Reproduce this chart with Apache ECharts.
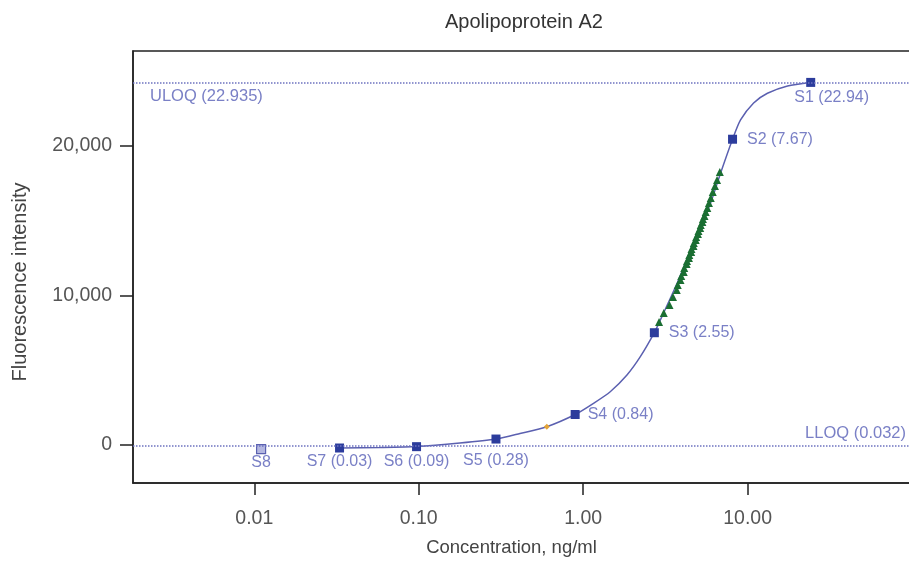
<!DOCTYPE html>
<html>
<head>
<meta charset="utf-8">
<title>Apolipoprotein A2</title>
<script src="https://cdn.jsdelivr.net/npm/echarts@6/dist/echarts.min.js"></script>
<style>
  html, body { margin: 0; padding: 0; background: #fff; }
  #main { width: 909px; height: 561px; }
</style>
</head>
<body>
<div id="main"></div>
<script>
// standards
var stdNames = ['S1 (22.94)', 'S2 (7.67)', 'S3 (2.55)', 'S4 (0.84)', 'S5 (0.28)', 'S6 (0.09)', 'S7 (0.03)', 'S8'];
var stdConc = [24.2, 8.1, 2.71, 0.894, 0.295, 0.097, 0.033, 0.011];
var stdSignal = [24250, 20450, 7510, 2040, 400, -110, -200, -270];

// fitted curve, points
var curveConc = [0.033, 0.0578, 0.0972, 0.178, 0.295, 0.413, 0.601, 0.894, 1.156, 1.461, 1.847, 2.227, 2.71,
  2.948, 3.727, 4.705, 5.949, 6.846, 8.1, 9.06, 10.88, 13.2, 17.5, 24.2];
var curveSignal = [-200, -167, -100, 134, 401, 770, 1224, 2040, 2789, 3565, 4682, 5906, 7512,
  8361, 10816, 13492, 16167, 18174, 20448, 21739, 22876, 23525, 24013, 24250];

// samples (green triangles)
var sampleConc = [2.894, 3.09, 3.35, 3.52, 3.71, 3.76, 3.91, 3.95, 4.09, 4.12, 4.26, 4.28,
  4.40, 4.42, 4.54, 4.56, 4.69, 4.71, 4.84, 4.87, 4.99, 5.03, 5.15, 5.19, 5.31, 5.35,
  5.47, 5.56, 5.69, 5.82, 5.97, 6.14, 6.33, 6.52, 6.78];
var sampleSignal = [8227, 8830, 9365, 9900, 10368, 10702, 11037, 11304, 11572, 11840, 12107, 12308,
  12508, 12709, 12910, 13110, 13311, 13512, 13712, 13913, 14114, 14314, 14515, 14716, 14916, 15117,
  15318, 15585, 15853, 16187, 16522, 16923, 17325, 17726, 18261];

// single orange point
var otherConc = [0.601];
var otherSignal = [1224];

var xTicks = [0.01, 0.1, 1, 10];
var yTicks = [0, 10000, 20000];
var uloq = 24250, lloq = -50;
var uloqText = 'ULOQ (22.935)', lloqText = 'LLOQ (0.032)';

(function() {
  var myChart = echarts.init(document.getElementById('main'));
  var font = 'Liberation Sans, Arial, sans-serif';
  var blueText = '#7a80c6';

  // label placement per standard
  var labelPos = [
    { position: 'bottom', distance: 3, offset: [21, 0] },
    { position: 'right', distance: 10 },
    { position: 'right', distance: 10 },
    { position: 'right', distance: 8 },
    { position: 'bottom', distance: 9 },
    { position: 'bottom', distance: 2 },
    { position: 'bottom', distance: 1 },
    { position: 'bottom', distance: 0 }
  ];

  var stdData = stdNames.map(function(n, i) {
    var item = {
      name: n,
      value: [stdConc[i], stdSignal[i]],
      label: labelPos[i]
    };
    if (n === 'S8') {
      item.itemStyle = { color: '#b4b7e0', borderColor: '#5a60b0', borderWidth: 1.2 };
    }
    return item;
  });

  var zip = function(a, b) {
    return a.map(function(v, i) { return [v, b[i]]; });
  };

  var option = {
    animation: false,
    textStyle: { fontFamily: font },
    title: {
      text: 'Apolipoprotein A2',
      left: 440,
      top: 7,
      textStyle: { fontFamily: font, fontSize: 20, fontWeight: 'normal', color: '#333' }
    },
    grid: {
      left: 133, right: -1, top: 51, bottom: 78,
      outerBoundsMode: 'none',
      show: true, borderColor: '#222', borderWidth: 1.5
    },
    xAxis: {
      type: 'log',
      min: 0.00183,
      max: 97.2,
      name: 'Concentration, ng/ml',
      nameLocation: 'middle',
      nameGap: 55,
      nameTextStyle: { fontFamily: font, fontSize: 18.5, color: '#444', padding: [0, 20, 0, 0] },
      splitLine: { show: false },
      axisLine: { onZero: false, lineStyle: { color: '#222', width: 1.5 } },
      axisTick: { customValues: xTicks, length: 12, lineStyle: { color: '#222', width: 1.5 } },
      axisLabel: {
        customValues: xTicks,
        margin: 26,
        fontSize: 19.5,
        color: '#555',
        formatter: function(v) { return (+v).toFixed(2); }
      }
    },
    yAxis: {
      type: 'value',
      min: -2540,
      max: 26350,
      name: 'Fluorescence intensity',
      nameLocation: 'middle',
      nameGap: 103,
      nameTextStyle: { fontFamily: font, fontSize: 20, color: '#444', padding: [0, 30, 0, 0] },
      splitLine: { show: false },
      axisLine: { show: true, onZero: false, lineStyle: { color: '#222', width: 1.5 } },
      axisTick: { show: true, customValues: yTicks, length: 13, lineStyle: { color: '#222', width: 1.5 } },
      axisLabel: {
        customValues: yTicks,
        margin: 21,
        fontSize: 19.5,
        color: '#555',
        formatter: function(v) { return String(Math.round(v)).replace(/\B(?=(\d{3})+(?!\d))/g, ','); }
      }
    },
    series: [
      {
        name: 'limits',
        type: 'line',
        data: [],
        markLine: {
          silent: true,
          symbol: 'none',
          lineStyle: { type: 'dotted', color: '#6d73c0', width: 1.5 },
          label: { color: blueText, fontSize: 16.5, fontFamily: font },
          data: [
            { yAxis: uloq, label: { formatter: uloqText, position: 'insideStartBottom', distance: [17, 6] } },
            { yAxis: lloq, label: { formatter: lloqText, position: 'insideEndTop', distance: [4, 4] } }
          ]
        }
      },
      {
        name: 'fit',
        type: 'line',
        data: zip(curveConc, curveSignal),
        smooth: 0.25,
        showSymbol: false,
        lineStyle: { color: '#5b60b0', width: 1.5 },
        z: 2
      },
      {
        name: 'other',
        type: 'scatter',
        data: zip(otherConc, otherSignal),
        symbol: 'diamond',
        symbolSize: 6,
        itemStyle: { color: '#e3a43a', opacity: 1 },
        z: 3
      },
      {
        name: 'samples',
        type: 'scatter',
        data: zip(sampleConc, sampleSignal),
        symbol: 'triangle',
        symbolSize: 8,
        itemStyle: { color: '#1a6e32', opacity: 1 },
        z: 3
      },
      {
        name: 'standards',
        type: 'scatter',
        data: stdData,
        symbol: 'rect',
        symbolSize: 9,
        itemStyle: { color: '#2c3c9c', opacity: 1 },
        label: {
          show: true,
          formatter: '{b}',
          color: blueText,
          fontSize: 16,
          fontFamily: font
        },
        z: 4
      }
    ]
  };
  myChart.setOption(option);

  window.addEventListener('resize', function() {
    myChart.resize();
  });
})();
</script>
</body>
</html>
